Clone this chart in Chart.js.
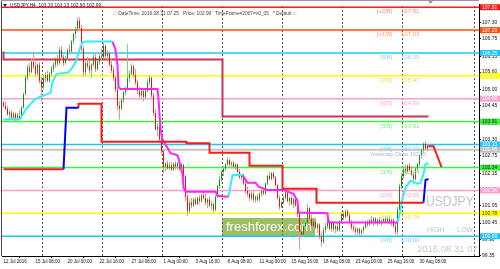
<!DOCTYPE html>
<html><head><meta charset="utf-8">
<script src="https://cdn.jsdelivr.net/npm/chart.js@4"></script>
<style>html,body{margin:0;padding:0;background:#fff;overflow:hidden}canvas{display:block}</style>
</head><body>
<canvas id="c" width="500" height="269"></canvas>
<script>
// ---------------- DATA ----------------
const symbol = 'USDJPY';
const headerLeft = 'USDJPY,H4  103.10 103.13 102.90 102.99';
const headerCenter = '::: DateTime: 2016.08.31 07:25   Price: 102.99   TimeFrame=2007=v0_05   * Default :::';
const stampText = '2016.08.31 07:25';

const xTickIdx = [0,16,32,48,64,80,96,112,128,144,160,176,192,208];
const xTickLabels = ['12 Jul 2016','15 Jul 08:00','20 Jul 00:00','22 Jul 16:00','27 Jul 08:00','1 Aug 00:00','3 Aug 16:00','8 Aug 08:00','11 Aug 00:00','15 Aug 16:00','18 Aug 08:00','23 Aug 00:00','25 Aug 16:00','30 Aug 08:00'];
const yTicks = [99.35,99.90,100.45,101.05,101.60,102.15,102.75,103.30,103.85,104.45,105.00,105.60,106.13,106.75,107.30];
const weekSeparators = [19.5,49.5,79.5,109.5,139.5,169.5,199.5,235.5];

const openP = [
104.55,104.45,104.35,104.15,104.22,104.05,104.18,103.98,104.12,104.02,
104.40,104.85,105.40,105.75,105.60,105.95,105.80,105.55,105.85,105.30,
105.10,105.40,105.50,105.30,105.55,105.70,105.85,106.05,105.90,106.35,
106.10,105.90,106.05,106.35,106.30,106.65,106.90,107.05,107.35,107.10,
106.40,105.60,105.90,105.80,105.65,105.85,106.10,105.70,105.95,106.15,
106.10,106.50,106.15,106.25,105.85,105.65,105.40,105.00,104.45,104.35,
104.65,104.90,105.05,105.40,105.55,105.80,105.50,105.25,104.95,104.80,
104.95,104.75,104.95,105.25,105.40,104.80,104.20,103.65,103.75,103.30,
102.90,102.35,102.47,102.32,102.42,102.27,102.47,102.37,102.50,102.30,
102.44,102.05,101.35,100.85,101.15,101.05,101.25,101.10,101.30,101.20,
101.40,101.30,101.15,101.25,101.05,101.10,100.90,101.35,101.70,101.95,
102.20,102.30,102.45,102.60,102.45,102.50,102.35,102.45,102.20,102.00,
102.10,101.80,101.55,101.45,101.30,101.45,101.25,101.35,101.25,101.45,
101.55,101.45,101.80,102.05,101.95,102.15,102.00,101.75,101.30,101.00,
101.15,101.30,101.50,101.20,101.30,101.10,101.25,101.05,100.75,100.15,
100.05,100.35,100.45,100.95,100.60,100.35,100.50,100.30,100.40,100.00,
99.80,100.20,100.35,100.50,100.25,100.45,100.25,100.35,100.20,100.50,
100.75,100.65,100.85,100.70,100.45,100.30,100.25,100.15,100.25,100.10,
100.20,100.30,100.45,100.40,100.55,100.50,100.60,100.45,100.55,100.45,
100.50,100.60,100.50,100.60,100.45,100.55,100.35,100.15,100.90,101.70,
102.05,102.30,102.20,102.40,102.25,102.10,101.95,102.30,102.45,102.75,
102.95,103.15,103.10];
const highP = [
104.62,104.60,104.45,104.30,104.28,104.25,104.22,104.20,104.30,104.45,
104.90,105.50,105.85,105.90,106.05,106.30,105.95,105.90,105.95,105.45,
105.50,105.60,105.65,105.60,105.80,105.95,106.10,106.20,106.45,106.50,
106.20,106.15,106.40,106.55,106.70,106.95,107.15,107.45,107.48,107.20,
106.50,106.00,106.10,106.00,105.90,106.20,106.25,106.00,106.20,106.40,
106.60,106.55,106.35,106.30,106.05,105.80,105.50,105.10,104.60,104.70,
104.95,105.10,106.55,105.65,105.90,105.85,105.70,105.35,105.10,105.05,
105.00,105.05,105.35,105.50,105.45,104.90,104.35,103.85,103.80,103.35,
102.95,102.52,102.57,102.52,102.54,102.52,102.57,102.54,102.57,102.52,
102.47,102.10,101.45,101.25,101.30,101.30,101.35,101.35,101.40,101.45,
101.55,101.45,101.30,101.35,101.20,101.15,101.40,101.75,102.05,102.25,
102.40,102.50,102.70,102.65,102.55,102.58,102.50,102.48,102.30,102.15,
102.12,101.90,101.70,101.55,101.50,101.55,101.40,101.45,101.50,101.60,
101.65,101.85,102.10,102.20,102.20,102.20,102.05,101.80,101.40,101.20,
101.40,101.55,101.55,101.35,101.40,101.30,101.35,101.10,100.85,100.30,
100.40,100.60,101.10,101.00,100.75,100.55,100.60,100.45,100.45,100.15,
100.30,100.45,100.55,100.55,100.50,100.50,100.40,100.45,100.55,100.80,
100.85,100.90,100.92,100.80,100.55,100.40,100.35,100.30,100.30,100.25,
100.35,100.50,100.55,100.60,100.70,100.65,100.65,100.60,100.65,100.60,
100.65,100.68,100.65,100.68,100.60,100.60,100.45,101.00,101.80,102.15,
102.40,102.45,102.45,102.50,102.40,102.20,102.35,102.50,102.80,103.00,
103.20,103.25,103.13];
const lowP = [
104.38,104.30,104.10,103.98,104.00,103.95,103.92,103.93,103.95,104.00,
104.35,104.80,105.30,105.50,105.55,105.70,105.45,105.50,105.20,104.60,
105.00,105.25,105.25,105.25,105.45,105.60,105.75,105.80,105.85,106.00,
105.80,105.85,106.00,106.20,106.25,106.55,106.75,106.95,107.00,106.30,
105.45,105.50,105.70,105.55,105.40,105.80,105.60,105.65,105.85,106.00,
106.05,106.05,105.95,105.80,105.55,105.30,104.90,104.30,103.98,104.30,
104.55,104.80,104.95,105.25,105.50,105.40,105.15,104.85,104.70,104.70,
104.60,104.70,104.90,105.15,104.70,104.10,103.60,103.40,103.20,102.80,
102.15,102.22,102.27,102.27,102.22,102.22,102.27,102.27,102.22,102.25,
101.95,101.20,100.70,100.80,100.95,101.00,101.05,101.05,101.10,101.15,
101.25,101.05,100.95,101.00,100.90,100.80,100.85,101.30,101.60,101.85,
102.05,102.25,102.40,102.35,102.30,102.30,102.25,102.15,101.95,101.90,
101.75,101.45,101.35,101.20,101.22,101.15,101.15,101.18,101.20,101.35,
101.40,101.40,101.75,101.90,101.90,101.95,101.70,101.25,100.90,100.95,
101.10,101.25,101.15,101.05,101.05,100.95,101.00,100.65,99.55,99.95,
100.00,100.25,100.40,100.55,100.25,100.20,100.25,100.10,99.90,99.65,
99.75,100.10,100.25,100.20,100.15,100.15,100.10,100.15,100.15,100.45,
100.55,100.60,100.65,100.40,100.20,100.15,100.05,100.05,100.00,100.00,
100.10,100.25,100.30,100.35,100.40,100.35,100.40,100.35,100.40,100.35,
100.45,100.45,100.45,100.40,100.35,100.30,100.05,100.05,100.85,101.60,
101.95,102.10,102.15,102.20,102.05,101.80,101.90,102.20,102.40,102.65,
102.85,102.95,102.90];
const closeP = [
104.45,104.35,104.15,104.22,104.05,104.18,103.98,104.12,104.02,104.40,
104.85,105.40,105.75,105.60,105.95,105.80,105.55,105.85,105.30,105.10,
105.40,105.50,105.30,105.55,105.70,105.85,106.05,105.90,106.35,106.10,
105.90,106.05,106.35,106.30,106.65,106.90,107.05,107.35,107.10,106.40,
105.60,105.90,105.80,105.65,105.85,106.10,105.70,105.95,106.15,106.10,
106.50,106.15,106.25,105.85,105.65,105.40,105.00,104.45,104.35,104.65,
104.90,105.05,105.40,105.55,105.80,105.50,105.25,104.95,104.80,104.95,
104.75,104.95,105.25,105.40,104.80,104.20,103.65,103.75,103.30,102.90,
102.35,102.47,102.32,102.42,102.27,102.47,102.37,102.50,102.30,102.44,
102.05,101.35,100.85,101.15,101.05,101.25,101.10,101.30,101.20,101.40,
101.30,101.15,101.25,101.05,101.10,100.90,101.35,101.70,101.95,102.20,
102.30,102.45,102.60,102.45,102.50,102.35,102.45,102.20,102.00,102.10,
101.80,101.55,101.45,101.30,101.45,101.25,101.35,101.25,101.45,101.55,
101.45,101.80,102.05,101.95,102.15,102.00,101.75,101.30,101.00,101.15,
101.30,101.50,101.20,101.30,101.10,101.25,101.05,100.75,100.15,100.05,
100.35,100.45,100.95,100.60,100.35,100.50,100.30,100.40,100.00,99.80,
100.20,100.35,100.50,100.25,100.45,100.25,100.35,100.20,100.50,100.75,
100.65,100.85,100.70,100.45,100.30,100.25,100.15,100.25,100.10,100.20,
100.30,100.45,100.40,100.55,100.50,100.60,100.45,100.55,100.45,100.50,
100.60,100.50,100.60,100.45,100.55,100.35,100.15,100.90,101.70,102.05,
102.30,102.20,102.40,102.25,102.10,101.95,102.30,102.45,102.75,102.95,
103.15,103.00,102.99];

// Murrey Math levels
const mmLevels = [107.81,107.03,106.25,105.47,104.69,103.91,103.13,102.34,101.56,100.78,100.00];
const mmNames  = ['[+2/8]','[+1/8]','[8/8]','[7/8]','[6/8]','[5/8]','[4/8]','[3/8]','[2/8]','[1/8]','[0/8]'];
const yesterdayClose = 102.95;

// crimson step line  [bar index, price]
const frameStep = [[0,106.30],[109.5,106.03],[139.5,104.08],[212.5,104.08]];
// trend step line (red = down, blue = up)
const trendRed1  = [[0,102.28],[30,102.28]];
const trendBlue1 = [[30,102.28],[31.5,104.38],[37.5,104.38]];
const trendRed2  = [[37.5,104.38],[49,104.52],[91.5,103.22],[103,103.17],[123,102.85],[139.5,102.40],[156.5,101.62],[176.5,101.14],[210,101.14]];
const trendBlue2 = [[210,101.14],[211,101.92],[212.5,101.95]];
const trendRed3  = [[212.5,103.07],[215,103.07],[219,102.36]];
// stop line (cyan = up, magenta = down)
const stopCyan1 = [[0,103.98],[8.5,104.01],[11,104.31],[15,104.62],[17,104.72],[23.5,104.89],[24.5,105.26],[26.5,105.53],[32.5,105.59],[34.5,105.76],[36.5,106.00],[38,106.37],[39.5,106.61],[41,106.64],[54.5,106.64]];
const stopMag1  = [[54.5,106.64],[56,106.37],[57,105.83],[57.5,105.09],[58.5,105.02],[77,105.02],[77.5,104.68],[78.5,103.67],[79.5,103.30],[81,103.13],[83.5,102.83],[87,102.76],[87.5,102.66],[89.5,102.12],[90,101.65],[91,101.52],[106,101.52],[107,101.38],[112.5,101.35]];
const stopCyan2 = [[112.5,101.35],[113.5,101.72],[114.5,102.09],[119.5,102.09]];
const stopMag2  = [[119.5,102.09],[122,101.82],[126,101.82],[127.5,101.69],[132,101.58],[140,101.58],[145,101.45],[147,101.21],[147.5,100.81],[162,100.78],[162.5,100.47],[197,100.47]];
const stopCyan3 = [[197,100.47],[198.5,100.88],[199.5,101.28],[201,101.65],[203.5,101.89],[207,101.79],[208.5,101.82],[210,102.12],[211,102.46],[212.5,102.49]];

// ---------------- STYLE ----------------
const FONT = '"Liberation Sans", Arial, sans-serif';
const X_MIN = -0.75, X_MAX = 237.75, Y_MIN = 99.325, Y_MAX = 107.92;
const mmColors  = ['#ff1a1a','#ff4d0d','#22c4ff','#ffff00','#ff9fcf','#3cf03c','#22c4ff','#3cf03c','#ff9fcf','#ffff00','#22c4ff'];
const mmText    = ['#ff8a8a','#ff9c6c','#7ed6ff','#e2e24a','#ffaad6','#86e686','#7ed6ff','#86e686','#ffaad6','#e2e24a','#7ed6ff'];
const mmBoxText = ['#fff','#fff','#fff','#fff','#fff','#222','#fff','#222','#fff','#444','#fff'];
const BULL='#188a18', BULL_W='#80cc80', BEAR='#ee1010', BEAR_W='#ff8c8c';

const pts = a => a.map(p => ({x:p[0], y:p[1]}));
const lineDs = (arr, color, width, order, extra) => Object.assign({type:'line', data:pts(arr), borderColor:color, borderWidth:width, pointRadius:0, tension:0, fill:false, order}, extra||{});

const datasets = [];
// week separators
datasets.push({type:'line', data: weekSeparators.flatMap(g => [{x:g,y:Y_MIN},{x:g,y:Y_MAX},{x:g,y:null}]),
  borderColor:'#555', borderWidth:1, borderDash:[2,2], pointRadius:0, spanGaps:false, order:100});
// murrey levels
mmLevels.forEach((lv,k) => datasets.push({type:'line', data:[{x:X_MIN,y:lv},{x:X_MAX,y:lv}], borderColor:mmColors[k], borderWidth:1.5, pointRadius:0, order:90}));
datasets.push({type:'line', data:[{x:X_MIN,y:yesterdayClose},{x:X_MAX,y:yesterdayClose}], borderColor:'#c4c4c4', borderWidth:2, pointRadius:0, order:89});
datasets.push(lineDs(frameStep, '#cc3355', 2, 80, {stepped:'after'}));

const barIndex = closeP.map((v,i) => i);
const up = i => closeP[i] >= openP[i];
datasets.push({type:'bar', data: barIndex.map(i => ({x:i, y:[lowP[i], highP[i]]})),
  backgroundColor: barIndex.map(i => up(i) ? BULL_W : BEAR_W), barThickness:1, grouped:false, borderWidth:0, inflateAmount:0, order:50});
datasets.push({type:'bar', data: barIndex.map(i => ({x:i, y:[openP[i], closeP[i]]})),
  backgroundColor: barIndex.map(i => up(i) ? BULL : BEAR), barThickness:1, grouped:false, borderWidth:0, inflateAmount:0, order:49});

datasets.push(lineDs(stopCyan1, '#2ef0ff', 2, 12));
datasets.push(lineDs(stopMag1, '#ff22ff', 2, 12));
datasets.push(lineDs(stopCyan2, '#2ef0ff', 2, 12));
datasets.push(lineDs(stopMag2, '#ff22ff', 2, 12));
datasets.push(lineDs(stopCyan3, '#2ef0ff', 2, 12));
datasets.push(lineDs(trendRed1, '#ff1a1a', 2, 10, {stepped:'after'}));
datasets.push(lineDs(trendBlue1, '#0000ff', 2, 10));
datasets.push(lineDs(trendRed2, '#ff1a1a', 2, 10, {stepped:'after'}));
datasets.push(lineDs(trendBlue2, '#0000ff', 2, 10));
datasets.push(lineDs(trendRed3, '#ff1a1a', 2, 10));

const overlay = {
  id:'overlay',
  beforeDraw(chart){
    const c = chart.ctx; c.save(); c.fillStyle='#fff'; c.fillRect(0,0,chart.width,chart.height); c.restore();
  },
  beforeDatasetsDraw(chart){
    const c = chart.ctx; c.save();
    c.fillStyle='rgba(140,182,78,0.88)'; c.fillRect(222,218,93,18);
    c.fillStyle='#fff'; c.font='13px '+FONT; c.textBaseline='middle'; c.textAlign='left';
    c.fillText('freshforex.com',226,227.5);
    c.restore();
  },
  afterDatasetsDraw(chart){
    const c = chart.ctx, a = chart.chartArea, y = chart.scales.y;
    c.save();
    c.beginPath(); c.rect(a.left,a.top,a.right-a.left,a.bottom-a.top); c.clip();
    c.textBaseline='middle';
    c.font='6px '+FONT;
    mmLevels.forEach((lv,k) => {
      const py = y.getPixelForValue(lv) + 4.5;
      c.fillStyle = mmText[k];
      c.textAlign='right'; c.fillText(mmNames[k], 392, py);
      c.textAlign='left'; c.fillText(lv.toFixed(2), 401, py);
    });
    c.font='5.3px '+FONT; c.fillStyle='#b4b4b4'; c.textAlign='left';
    c.fillText('Yesterday Close '+yesterdayClose.toFixed(2), 370, y.getPixelForValue(yesterdayClose)+4.5);
    c.save(); c.translate(426,202); c.scale(0.78,1);
    c.font='15.5px '+FONT; c.fillStyle='#c4c4c4'; c.fillText(symbol,0,0); c.restore();
    c.font='7px '+FONT; c.fillStyle='#c4c4c4';
    c.fillText('HIGH',427,230); c.fillText('LOW',457,230);
    c.font='9.5px '+FONT; c.fillStyle='#c8c8c8';
    c.fillText(stampText,417,249);
    c.restore();
  },
  afterDraw(chart){
    const c = chart.ctx, a = chart.chartArea, y = chart.scales.y;
    c.save();
    // frame
    c.strokeStyle='#444'; c.lineWidth=1;
    c.beginPath(); c.moveTo(1.5,0); c.lineTo(1.5,a.bottom); c.stroke();
    c.strokeStyle='#999';
    c.beginPath(); c.moveTo(1,0.5); c.lineTo(a.right,0.5); c.stroke();
    // header
    c.textBaseline='middle'; c.textAlign='left';
    c.fillStyle='#222';
    c.beginPath(); c.moveTo(3,4); c.lineTo(7,4); c.lineTo(5,7); c.closePath(); c.fill();
    c.font='4.8px '+FONT; c.fillText(headerLeft,10,5.5);
    c.fillStyle='#444'; c.fillText(headerCenter,113,13.5);
    // shift marker
    c.fillStyle='#999';
    c.beginPath(); c.moveTo(428,1); c.lineTo(433,1); c.lineTo(430.5,4); c.closePath(); c.fill();
    // price boxes
    c.font='5px '+FONT;
    const boxes = mmLevels.map((lv,k) => [lv, mmColors[k], mmBoxText[k]]).concat([[yesterdayClose,'#c0c0c0','#fff']]);
    boxes.forEach(([lv,bg,fg]) => {
      const py = y.getPixelForValue(lv);
      c.fillStyle=bg; c.fillRect(480, py-3, 20, 6);
      c.fillStyle=fg; c.fillText(lv.toFixed(2), 482, py+0.3);
    });
    c.restore();
  }
};

new Chart(document.getElementById('c'), {
  type:'line',
  data:{datasets},
  options:{
    responsive:false, animation:false, devicePixelRatio:1,
    layout:{padding:{left:2, top:1, right:0, bottom:0}},
    plugins:{legend:{display:false}, tooltip:{enabled:false}},
    scales:{
      x:{type:'linear', min:X_MIN, max:X_MAX, offset:false, position:'bottom',
        afterBuildTicks: s => { s.ticks = xTickIdx.map(v => ({value:v})); },
        afterFit: s => { s.height = 13; },
        ticks:{autoSkip:false, maxRotation:0, minRotation:0, align:'start', padding:1,
          font:{family:FONT, size:4.5}, color:'#111',
          callback: v => xTickLabels[xTickIdx.indexOf(v)]},
        grid:{display:true, drawOnChartArea:false, drawTicks:true, tickLength:2, color:'#000'},
        border:{display:true, color:'#000'}
      },
      y:{type:'linear', position:'right', min:Y_MIN, max:Y_MAX,
        afterBuildTicks: s => { s.ticks = yTicks.map(v => ({value:v})); },
        afterFit: s => { s.width = 21; },
        ticks:{autoSkip:false, padding:1, font:{family:FONT, size:5}, color:'#111',
          callback: v => Number(v).toFixed(2)},
        grid:{display:true, drawOnChartArea:false, drawTicks:true, tickLength:2, color:'#000'},
        border:{display:true, color:'#000'}
      }
    }
  },
  plugins:[overlay]
});
</script>
</body></html>
